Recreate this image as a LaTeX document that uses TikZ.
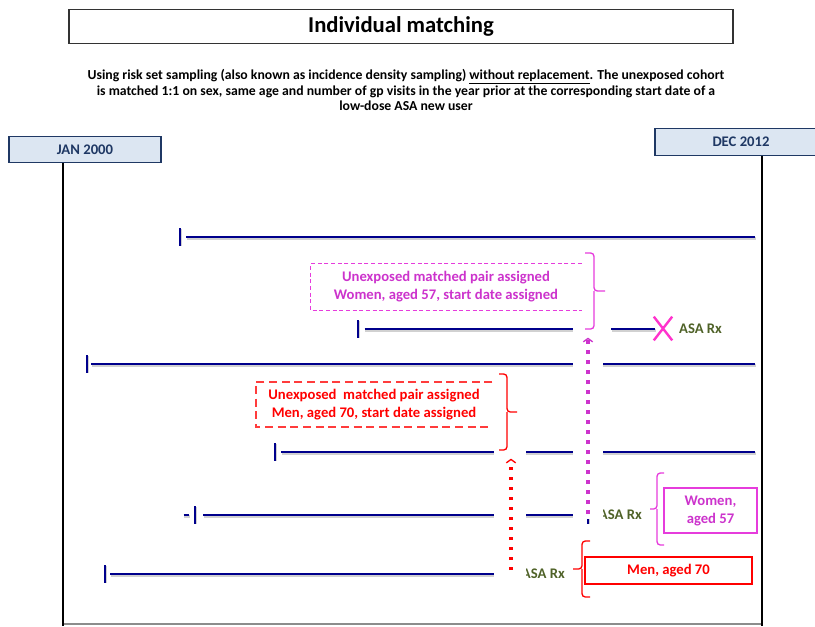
\documentclass[tikz,border=0pt]{standalone}
\usepackage{fontspec}
\setmainfont{Carlito}
\usetikzlibrary{positioning,arrows.meta,shapes.misc}

\definecolor{navyline}{RGB}{0,0,140}
\definecolor{dateblue}{RGB}{220,230,242}
\definecolor{datetext}{RGB}{31,56,100}
\definecolor{asagreen}{RGB}{79,98,40}
\definecolor{pairpink}{RGB}{204,51,204}
\definecolor{pinkline}{RGB}{230,60,220}
\definecolor{xpink}{RGB}{255,51,204}
\definecolor{pairred}{RGB}{255,0,0}
\definecolor{menline}{RGB}{255,60,60}

\tikzset{
	titlebox/.style={draw=black!80, line width=.8pt, minimum width=498pt, minimum height=26pt, font=\fontsize{17}{20}\selectfont\bfseries},
	intro/.style={align=center, font=\fontsize{10.3}{11.6}\selectfont\bfseries},
	datebox/.style={draw=datetext, fill=dateblue, line width=.8pt, minimum height=20pt, text=datetext, font=\fontsize{11}{13}\selectfont\bfseries},
	dateaxis/.style={draw=black, line width=2.2pt},
	tline/.style={draw=navyline, line width=2.2pt, preaction={draw=black!18, line width=2.2pt, transform canvas={xshift=.4pt, yshift=-1pt}}},
	startbar/.style={draw=navyline, line width=2pt, preaction={draw=black!18, line width=2pt, transform canvas={xshift=.6pt, yshift=-.6pt}}},
	asa/.style={inner sep=0pt, text=asagreen, font=\fontsize{11}{13}\selectfont\bfseries},
	pairtext/.style={align=center, inner sep=0pt, font=\fontsize{11}{13.5}\selectfont\bfseries},
	womenpairdash/.style={draw=pinkline, line width=.8pt, dash pattern=on 3pt off 2pt},
	menpairdash/.style={draw=menline, line width=1.3pt, dash pattern=on 6pt off 3.5pt},
	pinkbrace/.style={draw=pinkline, line width=1pt, rounded corners=2.5pt},
	redbrace/.style={draw=pairred, line width=1pt, rounded corners=2.5pt},
	pinkbox/.style={draw=pinkline, line width=.9pt, align=center, text=pairpink, font=\fontsize{11}{13.5}\selectfont\bfseries},
	redbox/.style={draw=pairred, line width=.9pt, text=pairred, font=\fontsize{11}{13.5}\selectfont\bfseries},
	pinkdots/.style={draw=pairpink, line width=2.4pt, dash pattern=on 2.4pt off 5.1pt, -{Straight Barb[length=2.5pt, width=7pt, line width=1pt]}},
	reddots/.style={draw=pairred, line width=2.4pt, dash pattern=on 2.4pt off 5.1pt, -{Straight Barb[length=2.5pt, width=7pt, line width=1pt]}}
}

\begin{document}
\begin{tikzpicture}[x=0.75pt, y=-0.75pt]
	\useasboundingbox (0,0) rectangle (815,626);

	\node[titlebox] (title) at (401,26.5) {Individual matching};
	\node[intro] (intro) at (406,90) {Using risk set sampling (also known as incidence density sampling) \underline{without replacement}. The unexposed cohort\\is matched 1:1 on sex, same age and number of gp visits in the year prior at the corresponding start date of a\\low-dose ASA new user};

	\node[datebox, minimum width=114pt] (jan) at (85,149.5) {JAN 2000};
	\node[datebox, minimum width=129pt] (dec) at (741,142) {DEC 2012};
	\coordinate (lowL) at (63,626);
	\coordinate (lowR) at (762,626);
	\draw[black!45, line width=1pt] ([yshift=1.5pt]lowL) -- ([yshift=1.5pt]lowR);
	\draw[dateaxis] (jan.south -| lowL) -- (lowL);
	\draw[dateaxis] (dec.south -| lowR) -- (lowR);

	\coordinate (s1) at (180,237); \coordinate (e1) at (755,237);
	\coordinate (s2) at (358,329); \coordinate (e2) at (655,329);
	\coordinate (s3) at (87,364);  \coordinate (e3) at (755,364);
	\coordinate (s4) at (275,452); \coordinate (e4) at (755,452);
	\coordinate (s5) at (195,515); \coordinate (e5) at (588,515);
	\coordinate (s6) at (105,574); \coordinate (e6) at (511,574);
	\coordinate (r2) at (611,329);

	\draw[tline] ([xshift=4.5pt]s1) -- (e1);
	\draw[tline] ([xshift=5pt]s2) -- (s2 -| e5);
	\draw[tline] (r2) -- (e2);
	\draw[tline] ([xshift=3pt]s3) -- (e3);
	\draw[tline] ([xshift=4.5pt]s4) -- (e4);
	\draw[tline] ([xshift=6pt]s5) -- (e5);
	\draw[tline] ([xshift=-8.5pt]s5) -- ([xshift=-4.5pt]s5);
	\draw[tline] ([xshift=4pt]s6) -- (e6);
	\foreach \p in {s1,s2,s3,s4,s5,s6,e5}
		\draw[startbar] ([yshift=6.4pt]\p) -- ([yshift=-6.4pt]\p);

	\node[draw=xpink, cross out, line width=1.8pt, minimum width=12pt, minimum height=16pt] (stop) at (663,328.5) {};
	\node[asa, right=5pt of stop] (asa2) {ASA Rx};
	\node[asa, right=8pt of e5] (asa5) {ASA Rx};
	\node[asa, right=8pt of e6] (asa6) {ASA Rx};

	\fill[white] (573,318) rectangle (603,519);
	\fill[white] (494,445) rectangle (526,582);

	\node[pairtext, text=pairpink, minimum width=203pt, minimum height=34.5pt] (pairW) at (446,287) {Unexposed matched pair assigned\\Women, aged 57, start date assigned};
	\draw[womenpairdash] (pairW.north east) -- (pairW.north west) -- (pairW.south west) -- (pairW.south east);
	\node[pairtext, text=pairred, minimum width=177pt, minimum height=33.75pt] (pairM) at (374,404.5) {Unexposed\ \ matched pair assigned\\Men, aged 70, start date assigned};
	\draw[menpairdash] (pairM.north east) -- (pairM.north west) -- (pairM.south west) -- (pairM.south east);

	\draw[pinkbrace] (585,253) -| (594,291) -- (605,291) (594,291) |- (585,329);
	\draw[redbrace] (499,374) -| (507,412) -- (517,412) (507,412) |- (499,450);
	\draw[pinkbrace] (664,473) -| (657,509) -- (650,509) (657,509) |- (664,545);
	\draw[redbrace] (590,541) -| (582,569) -- (573,569) (582,569) |- (590,597);

	\draw[pinkdots] ([yshift=1pt]e5) -- ([yshift=-6.5pt]s2 -| e5);
	\draw[reddots] ([yshift=3pt]e6) -- ([yshift=-5pt]s4 -| e6);

	\node[pinkbox, minimum width=69.75pt, minimum height=33.75pt] (women) at (710.5,510.5) {Women,\\aged 57};
	\node[redbox, minimum width=125.25pt, minimum height=20.25pt] (men) at (668.5,570.5) {Men, aged 70};
\end{tikzpicture}
\end{document}
